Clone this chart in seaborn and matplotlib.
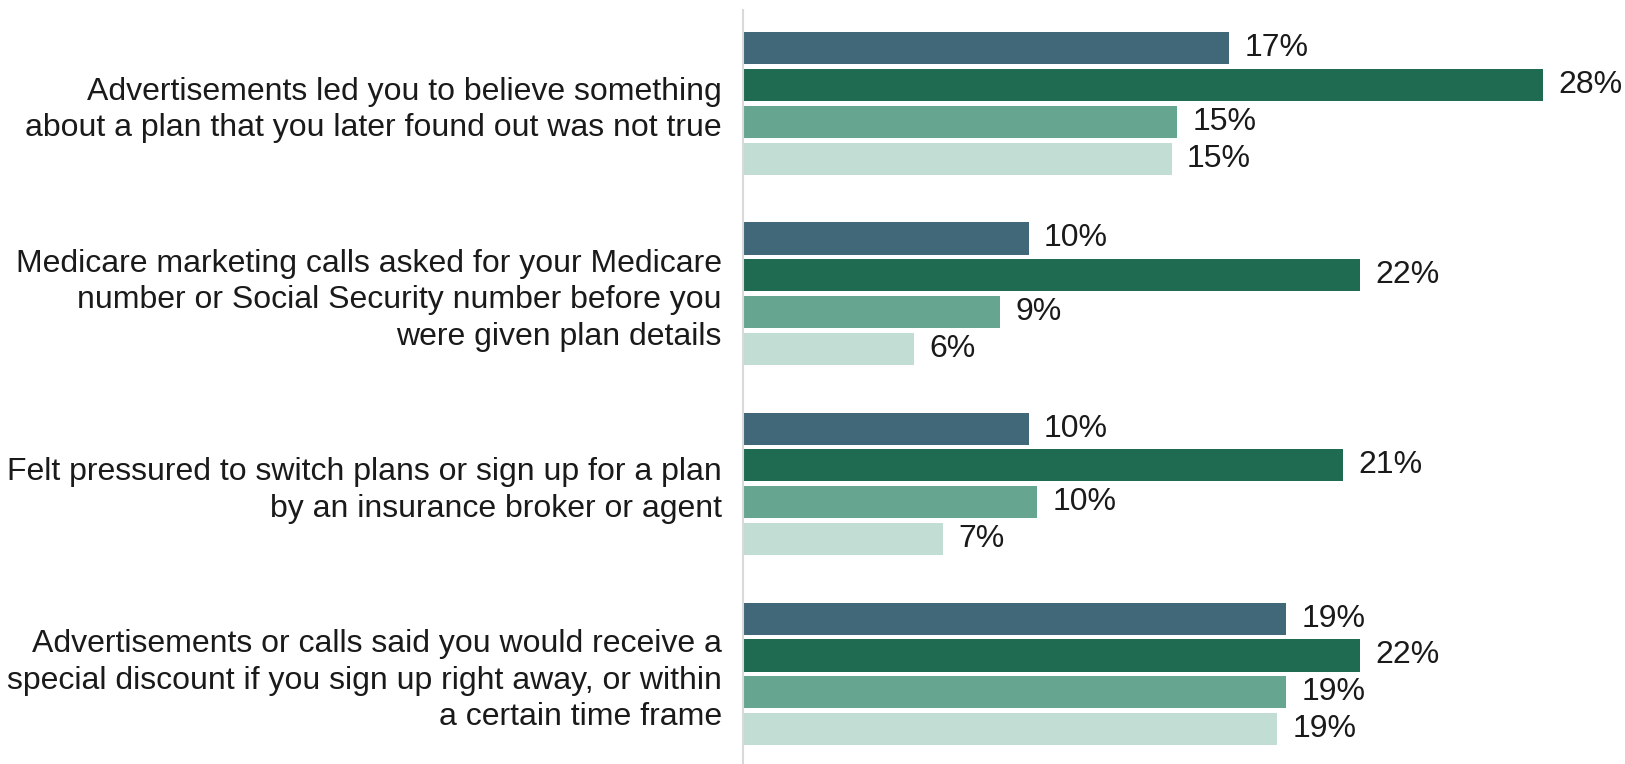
import matplotlib
matplotlib.use("Agg")
import matplotlib.pyplot as plt
import seaborn as sns
import pandas as pd

# Survey statements (y categories)
statements = [
    "Advertisements led you to believe something\nabout a plan that you later found out was not true",
    "Medicare marketing calls asked for your Medicare\nnumber or Social Security number before you\nwere given plan details",
    "Felt pressured to switch plans or sign up for a plan\nby an insurance broker or agent",
    "Advertisements or calls said you would receive a\nspecial discount if you sign up right away, or within\na certain time frame",
]

# Respondent groups (hue) and their shares, in percent
groups = ["Group 1", "Group 2", "Group 3", "Group 4"]
group1_pct = [17.0, 10.0, 10.0, 19.0]
group2_pct = [28.0, 21.6, 21.0, 21.6]
group3_pct = [15.2, 9.0, 10.3, 19.0]
group4_pct = [15.0, 6.0, 7.0, 18.7]

palette = ["#406879", "#1E6B52", "#66A690", "#C2DDD4"]

rows = []
for g, vals in zip(groups, [group1_pct, group2_pct, group3_pct, group4_pct]):
    for s, v in zip(statements, vals):
        rows.append({"statement": s, "group": g, "pct": v})
df = pd.DataFrame(rows)

sns.set_theme(style="white")
plt.rcParams["font.family"] = ["Liberation Sans", "DejaVu Sans"]

fig = plt.figure(figsize=(16.25, 7.64), dpi=100)
ax = fig.add_axes([0.457, 0.0, 0.543, 0.987])

sns.barplot(
    data=df, y="statement", x="pct", hue="group", order=statements,
    hue_order=groups, palette=palette, orient="h", width=0.775, gap=0.13,
    saturation=1, legend=False, ax=ax, edgecolor="none",
)

for container in ax.containers:
    labels = [f"{round(v):.0f}%" for v in container.datavalues]
    ax.bar_label(container, labels=labels, padding=11, fontsize=23, color="#1a1a1a")

ax.set_xlim(0, 30.85)
ax.set_ylim(3.474, -0.493)
ax.set_xlabel("")
ax.set_ylabel("")
ax.set_xticks([])
ax.tick_params(axis="y", length=0, pad=15, labelsize=23, labelcolor="#1a1a1a")
for lbl in ax.get_yticklabels():
    lbl.set_linespacing(1.27)
for side in ["top", "right", "bottom"]:
    ax.spines[side].set_visible(False)
ax.spines["left"].set_color("#d9d9d9")
ax.spines["left"].set_linewidth(1.5)

fig.savefig("out.png", dpi=100)
